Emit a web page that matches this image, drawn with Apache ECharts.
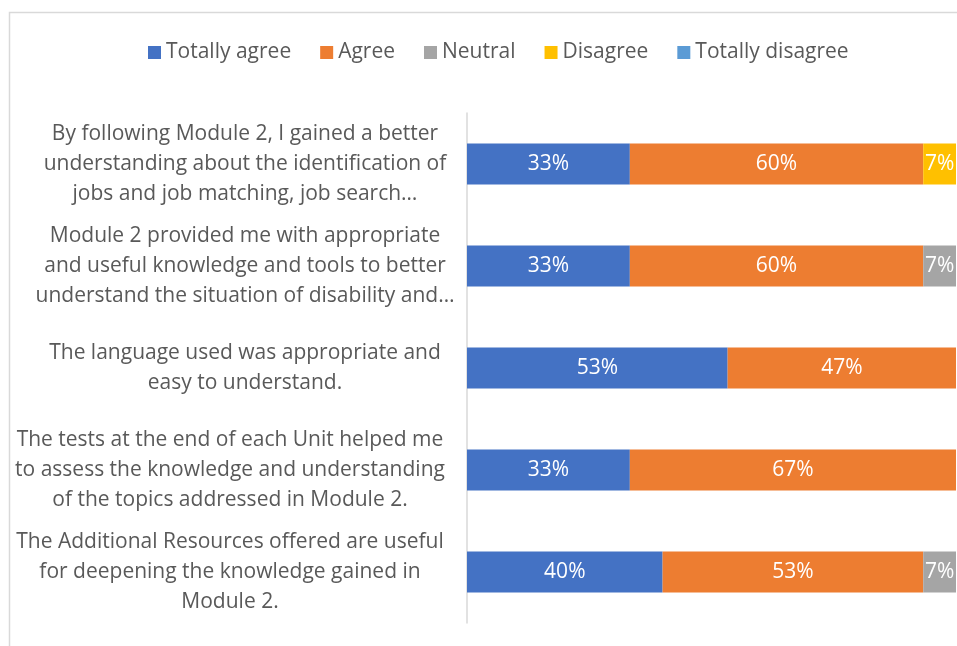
<!DOCTYPE html>
<html><head><meta charset="utf-8">
<script src="https://cdn.jsdelivr.net/npm/echarts@6/dist/echarts.min.js"></script>
<style>html,body{margin:0;padding:0;background:#fff}#c{width:957px;height:646px}</style>
</head><body><div id="c"></div>
<script>
const categories = [
  "By following Module 2, I gained a better\nunderstanding about the identification of\njobs and job matching, job search…",
  "Module 2 provided me with appropriate\nand useful knowledge and tools to better\nunderstand the situation of disability and…",
  "The language used was appropriate and\neasy to understand.",
  "The tests at the end of each Unit helped me\nto assess the knowledge and understanding\nof the topics addressed in Module 2.",
  "The Additional Resources offered are useful\nfor deepening the knowledge gained in\nModule 2."
];
const seriesNames = ["Totally agree", "Agree", "Neutral", "Disagree", "Totally disagree"];
const totallyAgree = [33.3, 33.3, 53.3, 33.3, 40];
const agree = [60, 60, 46.7, 66.7, 53.3];
const neutral = [0, 6.7, 0, 0, 6.7];
const disagree = [6.7, 0, 0, 0, 0];
const totallyDisagree = [0, 0, 0, 0, 0];
const colors = ["#4472C4", "#ED7D31", "#A5A5A5", "#FFC000", "#5B9BD5"];

const FONT = "'Open Sans', 'Noto Sans', sans-serif";
const allData = [totallyAgree, agree, neutral, disagree, totallyDisagree];
const txt = {fontSize: 21, lineHeight: 30, color: '#595959', fontFamily: FONT};
const chart = echarts.init(document.getElementById('c'), null, {renderer: 'canvas'});
chart.setOption({
  animation: false,
  color: colors,
  textStyle: {fontFamily: FONT},
  graphic: [{
    type: 'rect', silent: true, z: -1,
    shape: {x: 9.5, y: 12.5, width: 1000, height: 700},
    style: {fill: 'none', stroke: '#d9d9d9', lineWidth: 1.5}
  }],
  legend: {
    top: 37, left: 143,
    itemWidth: 13, itemHeight: 13, itemGap: 29,
    icon: 'rect',
    textStyle: {fontSize: 21, color: '#595959', fontFamily: FONT},
    data: seriesNames
  },
  grid: {left: 467, top: 113, width: 489, height: 510, containLabel: false, outerBoundsMode: 'none'},
  xAxis: {type: 'value', min: 0, max: 100, show: false},
  yAxis: {
    type: 'category', inverse: true, data: categories,
    axisLine: {lineStyle: {color: '#d9d9d9', width: 1.5}},
    axisTick: {show: false},
    axisLabel: Object.assign({
      align: 'center', margin: 222,
      formatter: (v, i) => {
        const tag = i >= 3 ? 'w' : 'n';
        return v.split('\n').map(l => '{' + tag + '|' + l + '}').join('\n');
      },
      rich: {
        n: Object.assign({}, txt),
        w: Object.assign({padding: [0, 30, 0, 0]}, txt)
      }
    }, txt)
  },
  series: seriesNames.map((n, i) => ({
    name: n, type: 'bar', stack: 'total', barWidth: 41,
    data: allData[i],
    label: {
      show: true, position: 'inside', color: '#fff', fontSize: 21, fontFamily: FONT,
      formatter: p => p.value > 0 ? Math.round(p.value) + '%' : ''
    }
  }))
});
</script></body></html>
